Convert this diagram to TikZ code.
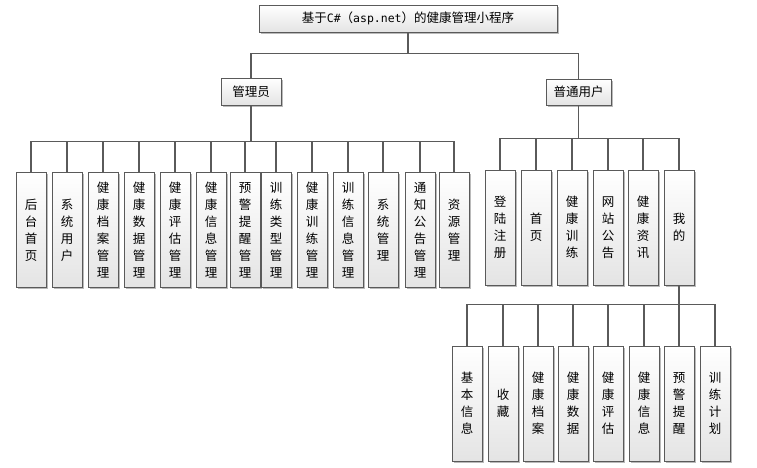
\documentclass[tikz,border=0pt]{standalone}
\usepackage{fontspec}
\newfontfamily\cjk{Noto Sans CJK SC}
\newfontfamily\mono{DejaVu Sans Mono}
\usetikzlibrary{shadows}
\definecolor{BoxLine}{HTML}{5A5A5A}
\definecolor{BoxLow}{HTML}{E4E4E4}
\tikzset{
  box/.style={draw=BoxLine,line width=0.9pt,top color=white,bottom color=BoxLow,
    inner sep=0pt,font=\cjk\fontsize{12.5}{17}\selectfont,
    drop shadow={shadow xshift=1.6pt,shadow yshift=-1.6pt,fill=black!45,opacity=0.6}},
  vbox/.style={box,minimum width=30pt,minimum height=115pt,align=center},
  link/.style={draw=BoxLine,line width=1.1pt},
}

\begin{document}
\begin{tikzpicture}[x=1pt,y=-1pt]
  \useasboundingbox (0,0) rectangle (757,468);

  \node[box,minimum width=298pt,minimum height=27pt] (root) at (408,18.5) {基于{\mono\fontsize{11.5}{14}\selectfont C\#}（{\mono\fontsize{11.5}{14}\selectfont asp.net}）的健康管理小程序};
  \node[box,minimum width=60pt,minimum height=27pt] (admin) at (251,91.5) {管理员};
  \node[box,minimum width=65pt,minimum height=26pt] (user) at (578.5,92) {普通用户};

  \draw[link] (root.south) -- ++(0,21) -| (admin.north);
  \draw[link] (root.south) -- ++(0,21) -| (user.north);

  % 管理员
  \foreach \cx/\lbl [count=\i] in {31/{后\\台\\首\\页},67/{系\\统\\用\\户},103/{健\\康\\档\\案\\管\\理},
      139/{健\\康\\数\\据\\管\\理},175/{健\\康\\评\\估\\管\\理},211/{健\\康\\信\\息\\管\\理},
      245/{预\\警\\提\\醒\\管\\理},276/{训\\练\\类\\型\\管\\理},312/{健\\康\\训\\练\\管\\理},
      348/{训\\练\\信\\息\\管\\理},383/{系\\统\\管\\理},420/{通\\知\\公\\告\\管\\理},454/{资\\源\\管\\理}}
  {
    \node[vbox] (a\i) at (\cx,230) {\lbl};
    \draw[link] (admin.south) -- ++(0,36) -| (a\i.north);
  }

  % 普通用户
  \foreach \cx/\lbl [count=\i] in {500/{登\\陆\\注\\册},536/{首\\页},572/{健\\康\\训\\练},
      608/{网\\站\\公\\告},643/{健\\康\\资\\讯},679/{我\\的}}
  {
    \node[vbox] (u\i) at (\cx,227.5) {\lbl};
    \draw[link] (user.south) -- ++(0,33) -| (u\i.north);
  }

  % 我的
  \foreach \cx/\lbl [count=\i] in {467/{基\\本\\信\\息},503/{收\\藏},538/{健\\康\\档\\案},
      573/{健\\康\\数\\据},608/{健\\康\\评\\估},644/{健\\康\\信\\息},679/{预\\警\\提\\醒},715/{训\\练\\计\\划}}
  {
    \node[vbox] (m\i) at (\cx,403.5) {\lbl};
    \draw[link] (u6.south) -- ++(0,19) -| (m\i.north);
  }
\end{tikzpicture}
\end{document}
